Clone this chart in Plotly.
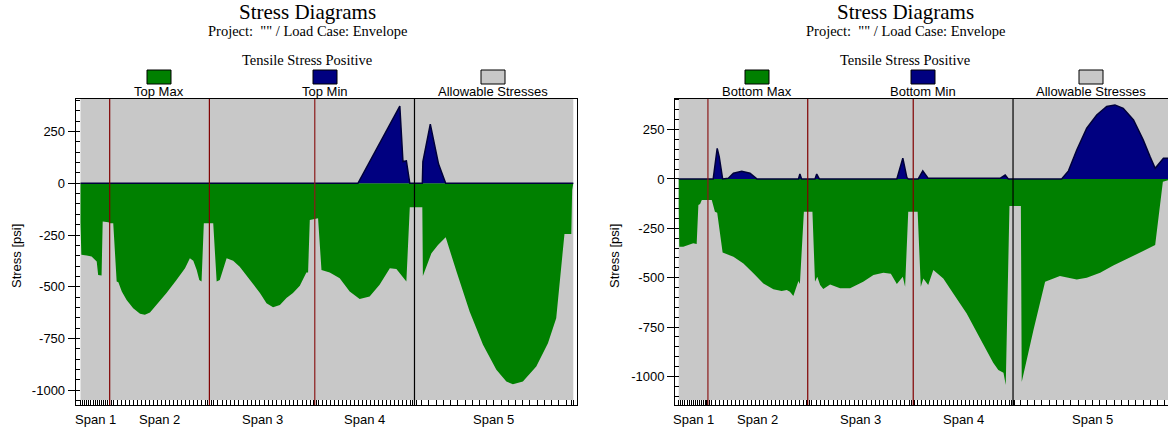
import numpy as np
import plotly.graph_objects as go

# ---------------- data ----------------
span_lengths = [10.25, 35.0, 37.0, 35.0, 55.75]          # ft
span_labels = ["Span 1", "Span 2", "Span 3", "Span 4", "Span 5"]
support_colors_left = ["#800000", "#800000", "#8b1a1a", "#000000"]
support_colors_right = ["#8b1a1a", "#800000", "#800000", "#000000"]

# Left diagram (Top fibre)
top_max_x = [0.0, 0.3, 2.2, 3.9, 5.7, 6.2, 7.4, 7.8, 9.8, 10.35, 11.5, 12.7, 13.3, 14.5, 16.2,
             18.5, 20.9, 22.6, 24.4, 26.7, 30.2, 33.7, 36.7, 38.4, 39.6, 40.8, 41.7, 42.5, 43.3,
             46.6, 47.8, 48.9, 51.3, 53.6, 55.9, 59.5, 63.0, 65.3, 67.6, 70.0, 72.3, 74.6, 77.0,
             79.3, 79.9, 80.5, 83.4, 84.6, 87.5, 91.0, 94.5, 98.0, 101.5, 105.0, 108.6, 110.9,
             113.2, 114.4, 115.6, 120.0, 120.2, 123.2, 125.5, 128.2, 132.0, 136.6, 141.3, 146.0,
             149.5, 151.8, 155.3, 160.0, 164.1, 167.0, 169.9, 172.3, 172.6, 173.0]
top_max_y = [-190, -346, -349, -354, -378, -443, -446, -185, -188, -193, -193, -475, -478, -523, -564,
             -604, -631, -636, -625, -588, -531, -467, -411, -362, -374, -419, -467, -475, -193,
             -193, -475, -467, -362, -374, -403, -467, -531, -580, -599, -588, -555, -531, -495,
             -431, -431, -177, -169, -419, -431, -459, -523, -559, -547, -491, -411, -414,
             -451, -475, -116, -116, -448, -338, -298, -261, -427, -620, -781, -902,
             -958, -972, -958, -886, -773, -652, -245, -245, -32, 0]

top_min_x = [0.0, 97.4, 112.1, 113.2, 114.4, 114.6, 115.6, 120.0, 120.2, 122.8, 125.7, 128.2, 173.0]
top_min_y = [0, 0, 373, 105, 108, 88, 0, 0, 105, 286, 93, 0, 0]

# Right diagram (Bottom fibre)
bot_max_x = [0.0, 0.2, 1.6, 3.4, 5.1, 6.3, 6.9, 7.5, 8.1, 11.6, 12.1, 12.7, 13.5, 15.4, 19.2,
             22.7, 26.2, 29.7, 33.2, 36.1, 37.9, 39.0, 40.2, 41.4, 42.0, 42.5, 43.9, 46.9, 47.8,
             48.6, 49.6, 50.7, 53.1, 56.6, 60.1, 64.7, 68.3, 71.8, 74.4, 76.5, 78.6, 79.4, 80.5,
             83.8, 84.9, 85.8, 87.5, 89.3, 92.8, 96.3, 101.0, 105.7, 110.3, 112.1, 113.9, 114.7,
             116.0, 120.0, 120.3, 124.4, 128.5, 133.7, 139.6, 143.1, 147.8, 152.4, 158.3, 162.9,
             167.1, 169.8, 173.0]
bot_max_y = [-140, -343, -343, -335, -326, -330, -132, -127, -106, -106, -132, -166, -171, -373, -394,
             -428, -478, -529, -559, -568, -563, -571, -593, -546, -517, -532, -166, -166, -521,
             -495, -537, -558, -534, -554, -554, -521, -487, -475, -480, -532, -495, -546, -166,
             -166, -546, -504, -537, -461, -504, -580, -681, -808, -931, -968, -982, -1044,
             -137, -137, -1028, -766, -521, -492, -509, -500, -475, -439, -399, -365,
             -335, -14, 0]

bot_min_x = [0.0, 12.1, 13.5, 14.2, 15.4, 17.4, 19.2, 22.1, 25.0, 27.4, 42.0, 42.5, 43.1, 47.8,
             48.4, 49.3, 76.5, 78.6, 80.0, 80.5, 84.0, 85.6, 87.5, 112.7, 114.5, 115.6, 134.3,
             136.7, 139.6, 143.1, 146.6, 150.1, 153.0, 155.9, 159.5, 162.9, 165.3, 167.1, 170.0,
             172.6, 173.0]
bot_min_y = [0, 0, 155, 113, 0, 3, 29, 39, 29, 0, 0, 25, 0, 0,
             25, 0, 0, 105, 8, 0, 0, 41, 3, 3, 20, 0, 0,
             41, 147, 257, 324, 367, 375, 358, 299, 198, 113, 54, 105,
             105, 0]

# Allowable stress band (tension limit / lowest shown compression limit), psi
allow_top = [410, 410]
allow_bottom = [-1048, -1120]

y_ticks = [250, 0, -250, -500, -750, -1000]
y_ticktext = ["250", "0", "-250", "-500", "-750", "-1000"]

legend_left = ["Top Max", "Top Min", "Allowable Stresses"]
legend_right = ["Bottom Max", "Bottom Min", "Allowable Stresses"]

# ---------------- derived ----------------
bounds = np.concatenate([[0], np.cumsum(span_lengths)])
total = bounds[-1]
centers = (bounds[:-1] + bounds[1:]) / 2

# analysis-point tick marks
tick_pos = []
ndiv = [14, 25, 25, 25, 22]
for i in range(5):
    tick_pos += list(np.linspace(bounds[i], bounds[i + 1], ndiv[i] + 1))
    tick_pos += [bounds[i] + 0.6, bounds[i + 1] - 0.6]
tick_pos = sorted(set(np.round(tick_pos, 3)))

W, H = 1168, 429
GREY = "#c8c8c8"
GREEN = "#008000"
NAVY = "#000080"
SANS = "Liberation Sans, Arial, sans-serif"
SERIF = "Liberation Serif, Times New Roman, serif"

fig = go.Figure()

panels = [
    dict(xa="x", ya="y", maxx=top_max_x, maxy=top_max_y, minx=top_min_x, miny=top_min_y,
         ab=allow_bottom[0], at=allow_top[0], colors=support_colors_left, legend=legend_left, off=0),
    dict(xa="x2", ya="y2", maxx=bot_max_x, maxy=bot_max_y, minx=bot_min_x, miny=bot_min_y,
         ab=allow_bottom[1], at=allow_top[1], colors=support_colors_right, legend=legend_right, off=598),
]


def ann(x, y, text, size, family, xref="paper", angle=0):
    return dict(x=x, y=y, xref=xref, yref="paper", text=text, showarrow=False,
                xanchor="center", yanchor="middle", textangle=angle,
                font=dict(family=family, size=size, color="black"))


shapes = []
annotations = []
for p in panels:
    xa, ya = p["xa"], p["ya"]
    fig.add_trace(go.Scatter(x=[0, total, total, 0, 0], y=[p["at"], p["at"], p["ab"], p["ab"], p["at"]],
                             fill="toself", fillcolor=GREY, line=dict(width=0), mode="lines",
                             hoverinfo="skip", showlegend=False, xaxis=xa, yaxis=ya))
    fig.add_trace(go.Scatter(x=p["maxx"], y=p["maxy"], fill="tozeroy", fillcolor=GREEN,
                             line=dict(width=0, color=GREEN), mode="lines", showlegend=False,
                             xaxis=xa, yaxis=ya))
    fig.add_trace(go.Scatter(x=p["minx"], y=p["miny"], fill="tozeroy", fillcolor=NAVY,
                             line=dict(width=1.5, color="#00003a"), mode="lines", showlegend=False,
                             xaxis=xa, yaxis=ya))
    # support lines
    for b, c in zip(bounds[1:-1], p["colors"]):
        shapes.append(dict(type="line", xref=xa, yref=ya + " domain", x0=b, x1=b, y0=0, y1=1,
                           line=dict(color=c, width=1.2), layer="above"))
    # span labels
    for cx, lab in zip(centers, span_labels):
        annotations.append(ann(cx, 1 - 419 / H, lab, 13, SANS, xref=xa))
    off = p["off"]
    # titles
    annotations.append(ann((307 + off) / W, 1 - 12 / H, "Stress Diagrams", 21, SERIF))
    annotations.append(ann((307 + off) / W, 1 - 31 / H, 'Project:  "" / Load Case: Envelope', 14.5, SERIF))
    annotations.append(ann((307 + off) / W, 1 - 60 / H, "Tensile Stress Positive", 14.5, SERIF))
    # legend
    for cx, lab, col in zip([159, 325, 493], p["legend"], [GREEN, NAVY, GREY]):
        shapes.append(dict(type="rect", xref="paper", yref="paper",
                           x0=(cx - 12 + off) / W, x1=(cx + 12 + off) / W,
                           y0=1 - 84 / H, y1=1 - 70 / H, fillcolor=col,
                           line=dict(color="black", width=1)))
        annotations.append(ann((cx + off) / W, 1 - 91 / H, lab, 13, SANS))
    annotations.append(ann((16 + off) / W, 1 - 256 / H, "Stress [psi]", 13, SANS, angle=-90))

ydom = [1 - 405 / H, 1 - 99 / H]
xcommon = dict(showgrid=False, zeroline=False, showline=True, linecolor="black", linewidth=1,
               tickmode="array", tickvals=tick_pos, ticktext=[""] * len(tick_pos),
               ticks="inside", ticklen=5, tickcolor="black", tickwidth=1)
ycommon = dict(showgrid=False, zeroline=False, showline=True, linecolor="black", linewidth=1,
               tickmode="array", tickvals=y_ticks, ticktext=y_ticktext, ticks="outside",
               ticklen=7, tickcolor="black", domain=ydom,
               tickfont=dict(family=SANS, size=13, color="black"),
               minor=dict(ticks="inside", ticklen=4, tickmode="linear", tick0=0, dtick=50,
                          tickcolor="black", showgrid=False))

fig.update_layout(
    width=W, height=H, autosize=False,
    margin=dict(l=0, r=0, t=0, b=0),
    paper_bgcolor="white", plot_bgcolor="white",
    showlegend=False,
    xaxis=dict(**xcommon, domain=[75.7 / W, 577 / W], range=[-1.68, 174.3], mirror=True, anchor="y"),
    yaxis=dict(**ycommon, range=[-1072, 407.6], mirror=True, anchor="x"),
    xaxis2=dict(**xcommon, domain=[675 / W, 1.0], range=[-1.3, 171.6], mirror=True, anchor="y2"),
    yaxis2=dict(**ycommon, range=[-1145, 405], anchor="x2"),
    shapes=shapes, annotations=annotations,
)

fig.write_html("out.html", config={"displayModeBar": False},
               post_script="document.body.style.margin='0';document.body.style.overflow='hidden';")
